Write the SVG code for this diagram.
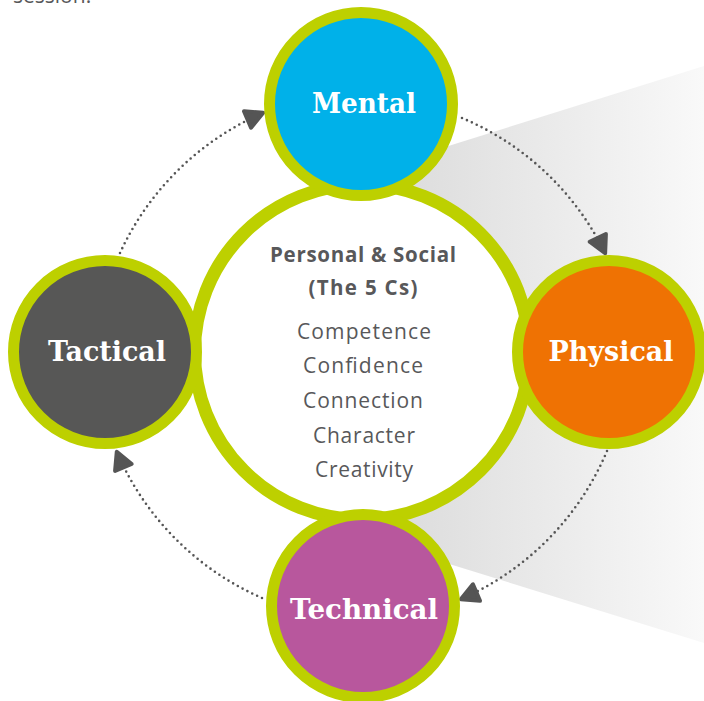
<svg xmlns="http://www.w3.org/2000/svg" width="704" height="701" viewBox="0 0 704 701">
<defs>
<linearGradient id="wedge" gradientUnits="userSpaceOnUse" x1="420" y1="0" x2="704" y2="0">
<stop offset="0" stop-color="#dedede"/>
<stop offset="1" stop-color="#f9f9f9"/>
</linearGradient>
<marker id="arr" markerUnits="userSpaceOnUse" markerWidth="40" markerHeight="40" refX="0" refY="0" orient="auto" overflow="visible">
<path d="M-2,0 L-19,-9 L-19,9 Z" fill="#555555" stroke="#555555" stroke-width="4" stroke-linejoin="round"/>
</marker>
<style>
.ring{stroke:#bdd000;stroke-width:11}
.hub{fill:#ffffff;stroke:#bdd000;stroke-width:13}
.lbl{font-family:"DejaVu Serif",serif;font-weight:bold;font-size:28px;fill:#ffffff;text-anchor:middle}
.ttl{font-family:"Open Sans","Liberation Sans",sans-serif;font-weight:bold;font-size:20.5px;fill:#58585a;text-anchor:middle}
.itm{font-family:"Open Sans","Liberation Sans",sans-serif;font-size:21px;fill:#58585a;text-anchor:middle}
.dot{fill:none;stroke:#555555;stroke-width:2.6;stroke-dasharray:0 5.4;stroke-linecap:round;marker-end:url(#arr)}
</style>
</defs>
<rect width="704" height="701" fill="#ffffff"/>
<text x="13" y="3" class="itm" style="text-anchor:start">session.</text>
<polygon points="362,173 704,66 704,643 362,537" fill="url(#wedge)"/>
<g id="connectors">
<path class="dot" d="M462,118 A280,280 0 0 1 606,255"/>
<path class="dot" d="M607,451 A280,280 0 0 1 459,600"/>
<path class="dot" d="M262,598 A280,280 0 0 1 116,450"/>
<path class="dot" d="M120,253 A280,280 0 0 1 265,112"/>
</g>
<g id="hub">
<circle cx="362" cy="352" r="167.5" class="hub"/>
<text x="363" y="262" class="ttl" textLength="186">Personal &amp; Social</text>
<text x="363" y="295" class="ttl" textLength="109">(The 5 Cs)</text>
<text x="364" y="339" class="itm" textLength="134">Competence</text>
<text x="363" y="373" class="itm" textLength="120">Confidence</text>
<text x="363" y="408" class="itm" textLength="120">Connection</text>
<text x="364" y="443" class="itm" textLength="102">Character</text>
<text x="364" y="477" class="itm" textLength="98">Creativity</text>
</g>
<g id="mental">
<circle cx="361" cy="104" r="91.5" fill="#00b1e9" class="ring"/>
<text x="364" y="113" class="lbl" textLength="104" lengthAdjust="spacingAndGlyphs">Mental</text>
</g>
<g id="physical">
<circle cx="609" cy="352" r="91.5" fill="#ef7203" class="ring"/>
<text x="611" y="361" class="lbl" textLength="125" lengthAdjust="spacingAndGlyphs">Physical</text>
</g>
<g id="tactical">
<circle cx="105" cy="352" r="91.5" fill="#575756" class="ring"/>
<text x="107" y="361" class="lbl" textLength="118" lengthAdjust="spacingAndGlyphs">Tactical</text>
</g>
<g id="technical">
<circle cx="363" cy="606" r="91.5" fill="#b8579d" class="ring"/>
<text x="364" y="619" class="lbl" textLength="148" lengthAdjust="spacingAndGlyphs">Technical</text>
</g>
</svg>
